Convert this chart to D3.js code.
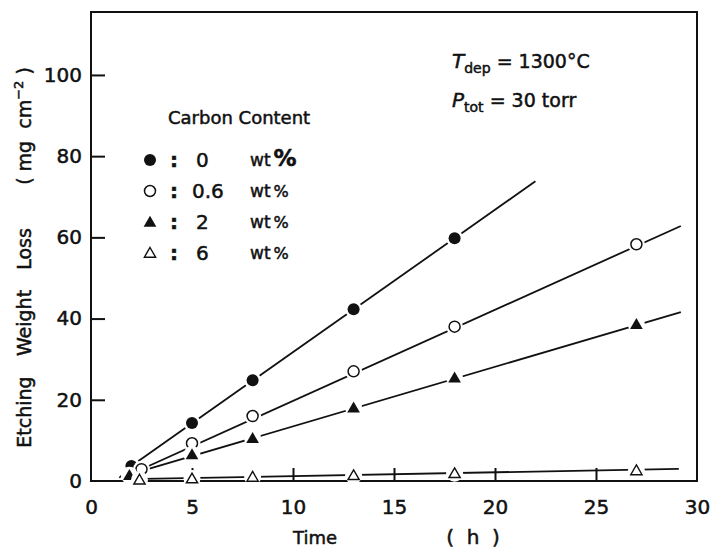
<!DOCTYPE html>
<html>
<head>
<meta charset="utf-8">
<script src="https://cdn.jsdelivr.net/npm/d3@7"></script>
<style>
  body { margin: 0; background: #fff; }
  svg text { font-family: "DejaVu Sans", "Noto Sans", sans-serif; fill: #111; stroke: #111; stroke-width: 0.5px; }
</style>
</head>
<body>
<div id="chart"></div>
<script>
// data
const seriesNames = ["0", "0.6", "2", "6"];
const time0 = [2, 5, 8, 13, 18];
const loss0 = [3.7, 14.3, 24.8, 42.3, 59.8];
const time06 = [2.5, 5, 8, 13, 18, 27];
const loss06 = [2.9, 9.3, 16, 27, 38, 58.3];
const time2 = [1.9, 5, 8, 13, 18, 27];
const loss2 = [1.4, 6.5, 10.5, 18, 25.4, 38.6];
const time6 = [2.4, 5, 8, 13, 18, 27];
const loss6 = [0.3, 0.6, 1, 1.4, 1.9, 2.6];
// fitted straight lines (start, end) for each series
const fit0 = [[2, 3.7], [22, 73.8]];
const fit06 = [[2.5, 2.9], [29.2, 62.8]];
const fit2 = [[2.6, 2.6], [29.2, 41.6]];
const fit6 = [[2.6, 0.5], [29.1, 3.0]];
const extrap0 = [[1.4, 0.8], [2, 3.7]];
const xTicks = [0, 5, 10, 15, 20, 25, 30];
const yTicks = [0, 20, 40, 60, 80, 100];

function createChart() {
  const width = 710, height = 551;
  const svg = d3.select("#chart").append("svg")
    .attr("width", width)
    .attr("height", height);

  const x = d3.scaleLinear().domain([0, 30]).range([91, 697]);
  const y = d3.scaleLinear().domain([0, 115.5]).range([481, 12]);

  const series = [
    { name: seriesNames[0], t: time0, v: loss0, fit: fit0, sym: "circle", filled: true },
    { name: seriesNames[1], t: time06, v: loss06, fit: fit06, sym: "circle", filled: false },
    { name: seriesNames[2], t: time2, v: loss2, fit: fit2, sym: "triangle", filled: true },
    { name: seriesNames[3], t: time6, v: loss6, fit: fit6, sym: "triangle", filled: false }
  ];

  // axes with inward ticks
  const xAxis = svg.append("g")
    .attr("transform", `translate(0,${y(0)})`)
    .call(d3.axisBottom(x).tickValues(xTicks).tickSize(-13).tickPadding(19).tickFormat(d3.format("d")));
  xAxis.selectAll(".tick line").filter(d => d === 0 || d === 30).remove();

  const yAxis = svg.append("g")
    .attr("transform", `translate(${x(0)},0)`)
    .call(d3.axisLeft(y).tickValues(yTicks).tickSize(-14).tickPadding(9));
  yAxis.selectAll(".tick line").filter(d => d === 0).remove();

  svg.selectAll(".domain").remove();
  svg.selectAll(".tick line").attr("stroke", "#111").attr("stroke-width", 2);
  svg.selectAll(".tick text").attr("font-size", 20).attr("fill", "#111").attr("stroke-width", 0.7);

  // frame
  svg.append("rect")
    .attr("x", x(0)).attr("y", y(115.5))
    .attr("width", x(30) - x(0)).attr("height", y(0) - y(115.5))
    .attr("fill", "none").attr("stroke", "#111").attr("stroke-width", 2);

  const line = d3.line().x(d => x(d[0])).y(d => y(d[1]));

  // fitted lines
  svg.append("g").selectAll("path")
    .data(series)
    .join("path")
      .attr("d", d => line(d.fit))
      .attr("fill", "none").attr("stroke", "#111").attr("stroke-width", 1.8);

  svg.append("path")
    .attr("d", line(extrap0))
    .attr("fill", "none").attr("stroke", "#111").attr("stroke-width", 1.6)
    .attr("stroke-dasharray", "3,2");

  const tri = d3.symbol().type(d3.symbolTriangle).size(70);
  const triOpen = d3.symbol().type(d3.symbolTriangle).size(55);

  function drawMarker(g, s, px, py, halo) {
    if (halo) {
      g.append("circle").attr("cx", px).attr("cy", py).attr("r", 8.5).attr("fill", "#fff");
    }
    if (s.sym === "circle") {
      g.append("circle").attr("cx", px).attr("cy", py).attr("r", s.filled ? 6 : 5.5)
        .attr("fill", s.filled ? "#111" : "#fff")
        .attr("stroke", "#111").attr("stroke-width", s.filled ? 0 : 1.5);
    } else {
      g.append("path").attr("d", s.filled ? tri() : triOpen())
        .attr("transform", `translate(${px},${py + 1})`)
        .attr("fill", s.filled ? "#111" : "#fff")
        .attr("stroke", "#111").attr("stroke-width", s.filled ? 0 : 1.4);
    }
  }

  const marks = svg.append("g");
  series.forEach(s => {
    s.t.forEach((t, i) => drawMarker(marks, s, x(t), y(s.v[i]), true));
  });

  // legend
  const legend = svg.append("g");
  legend.append("text")
    .attr("x", 168).attr("y", 124)
    .attr("font-size", 18)
    .text("Carbon Content");
  const rowY = [160, 191, 222, 253];
  series.forEach((s, i) => {
    drawMarker(legend, s, 150, rowY[i], false);
    legend.append("text").attr("x", 174).attr("y", rowY[i]).attr("dy", "0.35em")
      .attr("text-anchor", "middle").attr("font-size", 20).attr("font-weight", 700).text(":");
    legend.append("text").attr("x", i === 1 ? 192 : 196).attr("y", rowY[i]).attr("dy", "0.35em")
      .attr("font-size", 20).text(s.name);
    const w = legend.append("text").attr("x", 250).attr("y", rowY[i]).attr("dy", "0.35em")
      .attr("font-size", 17);
    w.append("tspan").text("wt");
    w.append("tspan").attr("dx", 3).attr("font-size", i === 0 ? 23 : 16).attr("font-weight", i === 0 ? 700 : 400).text("%");
  });

  // conditions
  const t1 = svg.append("text").attr("x", 452).attr("y", 68).attr("font-size", 19);
  t1.append("tspan").attr("font-style", "italic").attr("font-size", 20).text("T");
  t1.append("tspan").attr("font-size", 14).attr("dy", 5).text("dep");
  t1.append("tspan").attr("dy", -5).text(" = 1300°C");
  const t2 = svg.append("text").attr("x", 452).attr("y", 107).attr("font-size", 19);
  t2.append("tspan").attr("font-style", "italic").attr("font-size", 20).text("P");
  t2.append("tspan").attr("font-size", 14).attr("dy", 5).text("tot");
  t2.append("tspan").attr("dy", -5).text(" = 30 torr");

  // axis titles
  svg.append("text").attr("x", 315).attr("y", 544)
    .attr("text-anchor", "middle").attr("font-size", 18).attr("stroke-width", 1).text("Time");
  svg.append("text").attr("x", 473).attr("y", 544)
    .attr("text-anchor", "middle").attr("font-size", 20)
    .attr("xml:space", "preserve").text("(  h  )");

  const yWords = [
    { text: "Etching", c: 412 },
    { text: "Weight", c: 323 },
    { text: "Loss", c: 249 }
  ];
  svg.append("g").selectAll("text")
    .data(yWords)
    .join("text")
      .attr("transform", d => `translate(31,${d.c}) rotate(-90)`)
      .attr("text-anchor", "middle").attr("font-size", 19).attr("stroke-width", 1)
      .text(d => d.text);

  const yt = svg.append("text")
    .attr("transform", "translate(31,126) rotate(-90)")
    .attr("text-anchor", "middle").attr("font-size", 19).attr("stroke-width", 0.8)
    .attr("xml:space", "preserve");
  yt.append("tspan").text("( mg  cm");
  yt.append("tspan").attr("font-size", 13).attr("dy", -8).text("−2");
  yt.append("tspan").attr("dy", 8).text(" )");
}

createChart();
</script>
</body>
</html>
